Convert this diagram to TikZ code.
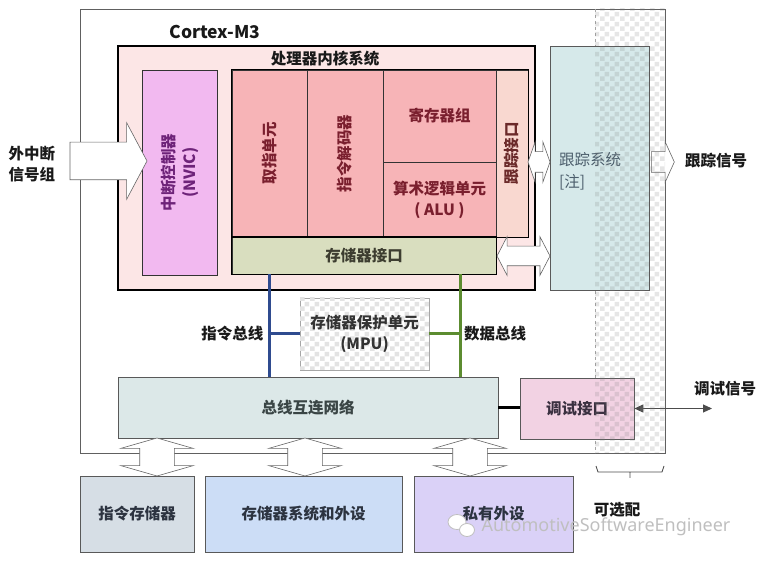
\documentclass[tikz,border=0pt]{standalone}
\usepackage{fontspec}
\setmainfont{Noto Sans CJK SC}
\newfontfamily\wmfont{Noto Sans}
\usetikzlibrary{shapes.arrows,arrows.meta,patterns.meta}

\definecolor{sysfill}{HTML}{FCE6E6}
\definecolor{nvicfill}{HTML}{F2B9F0}
\definecolor{nvictext}{HTML}{6E2379}
\definecolor{corefill}{HTML}{F7B4B7}
\definecolor{coretext}{HTML}{7A1F2E}
\definecolor{tifill}{HTML}{F9D8D0}
\definecolor{titext}{HTML}{6B2A2A}
\definecolor{memfill}{HTML}{D9DEBF}
\definecolor{memtext}{HTML}{3D3D30}
\definecolor{tsfill}{HTML}{D6E9EA}
\definecolor{tstext}{HTML}{4C5E6C}
\definecolor{busfill}{HTML}{DCE8E8}
\definecolor{bustext}{HTML}{3A4545}
\definecolor{dbgfill}{HTML}{F2D2E3}
\definecolor{dbgtext}{HTML}{3A3040}
\definecolor{imemfill}{HTML}{D6DEE5}
\definecolor{msysfill}{HTML}{CCDDF6}
\definecolor{pprivfill}{HTML}{DAD1F7}
\definecolor{btext}{HTML}{2C3340}
\definecolor{ibuscol}{HTML}{2F4B8F}
\definecolor{dbuscol}{HTML}{5C8C30}

\newcommand\lbl{\fontsize{15.5}{21}\selectfont\bfseries}

\tikzdeclarepattern{
  name=chk, type=uncolored,
  bounding box={(0pt,0pt) and (10pt,10pt)},
  tile size={(10pt,10pt)},
  code={\fill (0pt,0pt) rectangle (5pt,5pt); \fill (5pt,5pt) rectangle (10pt,10pt);}
}

\begin{document}
\begin{tikzpicture}[x=1pt,y=-1pt,
  blk/.style={draw=#1, line width=0.8pt, inner sep=0pt, align=center, font=\lbl},
  blk/.default=black!80,
  sz/.style 2 args={minimum width=#1pt, minimum height=#2pt},
  hollow/.style={draw=gray!80!black, fill=white, line width=0.6pt, inner sep=0pt, text depth=0pt, text width=0pt},
  lab/.style={font=\lbl, text=black!90, align=center, inner sep=1pt}]

  \useasboundingbox (0,0) rectangle (764,561);

  % Cortex-M3
  \node[draw=gray!75!black, line width=0.7pt, inner sep=0pt, sz={585}{444}] (m3) at (372.5,231) {};
  \node[lab, font=\fontsize{17.5}{18}\selectfont\bfseries] (m3lab) at (215,32) {Cortex-M3};
  \draw[gray!70, dashed, line width=0.6pt] (595,9) -- (595,453);

  % processor core system
  \node[blk=black, line width=1.2pt, fill=sysfill, sz={417}{244}] (sys) at (326.5,168) {};
  \node[lab] (syslab) at (325,59) {处理器内核系统};
  \node[blk, fill=nvicfill, text=nvictext, rotate=90, sz={205}{75}] (nvic) at (179.5,172.5) {中断控制器\\(NVIC)};
  \node[blk, fill=corefill, text=coretext, rotate=90, sz={167}{75}] (fetch) at (269.5,153.5) {取指单元};
  \node[blk, fill=corefill, text=coretext, rotate=90, sz={167}{76}] (decode) at (345,153.5) {指令解码器};
  \node[blk, fill=corefill, text=coretext, sz={113}{92}] (regs) at (439.5,116) {寄存器组};
  \node[blk, fill=corefill, text=coretext, sz={113}{75}] (alu) at (439.5,199.5) {算术逻辑单元\\(~ALU~)};
  \node[blk, fill=tifill, text=titext, rotate=90, sz={167}{32}] (traceif) at (512,153.5) {跟踪接口};
  \node[blk, fill=memfill, text=memtext, sz={264}{37}] (memif) at (364,255.5) {存储器接口};
  \draw[black, line width=1.2pt] (fetch.north east) rectangle (traceif.south west);
  \draw[black, line width=1.2pt] (memif.north west) rectangle (memif.south east);

  % trace system
  \node[blk=gray!70!black, line width=0.6pt, fill=tsfill, sz={99}{244}] (tracesys) at (599.5,168) {};
  \node[lab, font=\fontsize{15.5}{22}\selectfont, text=tstext, align=left, anchor=west] (tslab) at (558,171) {跟踪系统\\{[注]}};

  % MPU, bus network, debug
  \node[blk=gray!70, line width=0.6pt, fill=white, postaction={pattern=chk, pattern color=gray!22}, text=black!80, sz={129}{72}] (mpu) at (364.5,334) {存储器保护单元\\(MPU)};
  \node[blk=gray!70!black, line width=0.6pt, fill=busfill, text=bustext, sz={380}{61}] (busnet) at (308,407.5) {总线互连网络};
  \node[blk=gray!70!black, line width=0.6pt, fill=dbgfill, text=dbgtext, sz={114}{61}] (debug) at (577,408.5) {调试接口};

  % buses
  \coordinate (dtop) at (460,274.5);
  \draw[line width=3pt, ibuscol] (fetch.center |- memif.south) -- (fetch.center |- busnet.north);
  \draw[line width=3pt, ibuscol] (mpu.west) -- (mpu.west -| fetch.center);
  \draw[line width=3pt, dbuscol] (dtop) -- (dtop |- busnet.north);
  \draw[line width=3pt, dbuscol] (mpu.east) -- (mpu.east -| dtop);
  \node[lab, left=5pt] (iblab) at (mpu.west -| fetch.center) {指令总线};
  \node[lab, right=3pt] (dblab) at (mpu.east -| dtop) {数据总线};
  \draw[line width=3pt, black] (busnet.east) -- (busnet.east -| debug.west);

  % debug signal
  \coordinate (dbgend) at (712,408.5);
  \draw[black!70, line width=1pt, {Triangle[length=9pt,width=8pt]}-{Triangle[length=9pt,width=8pt]}] (debug.east) -- (dbgend);
  \node[lab] (dbglab) at (725,389) {调试信号};

  % bottom blocks
  \node[blk=gray!70!black, line width=0.6pt, fill=imemfill, text=btext, sz={114}{76}] (imem) at (137,514) {指令存储器};
  \node[blk=gray!70!black, line width=0.6pt, fill=msysfill, text=btext, sz={197}{76}] (msys) at (303.5,514) {存储器系统和外设};
  \node[blk=gray!70!black, line width=0.6pt, fill=pprivfill, text=btext, sz={159}{76}] (ppriv) at (493.5,514) {私有外设};

  % hollow arrows
  \node[hollow, single arrow, text height=37pt, single arrow head extend=19.5pt, single arrow tip angle=124, minimum height=77pt] (intarr) at (103.5,161) {};
  \node[lab] (intlab) at (32,164) {外中断\\信号组};
  \node[hollow, double arrow, text height=20pt, double arrow head extend=10pt, double arrow tip angle=141, minimum height=22pt] (tiarr) at (539,162) {};
  \node[hollow, double arrow, text height=19pt, double arrow head extend=9.5pt, double arrow tip angle=125, minimum height=53pt] (miarr) at (523.5,256) {};
  \node[hollow, single arrow, text height=20pt, single arrow head extend=10pt, single arrow tip angle=131, minimum height=23pt] (tsarr) at (660.5,162) {};
  \node[lab] (tsiglab) at (716,161) {跟踪信号};
  \foreach \x/\n in {157/a, 305/b, 470/c}
    \node[hollow, double arrow, rotate=90, text height=34pt, double arrow head extend=19pt, double arrow tip angle=148, minimum height=38pt] (barr\n) at (\x,457) {};

  % optional part
  \fill[pattern=chk, pattern color=gray, fill opacity=0.2] (595,9) rectangle (665,453);
  \draw[gray!60!black, line width=0.8pt] (596,466) -- (598,472) -- (662,472) -- (664,466) (630,472) -- (630,478);
  \node[lab] (optlab) at (617,510) {可选配};

  % watermark
  \draw[gray!50, line width=0.8pt, fill=white] (457,522) ellipse (9 and 7.5);
  \draw[gray!50, line width=0.8pt, fill=white] (467,530) ellipse (7.5 and 6.5);
  \node[font=\wmfont\fontsize{18}{18}\selectfont, text=gray!50, inner sep=0pt] (wm) at (606,527) {AutomotiveSoftwareEngineer};
\end{tikzpicture}
\end{document}
